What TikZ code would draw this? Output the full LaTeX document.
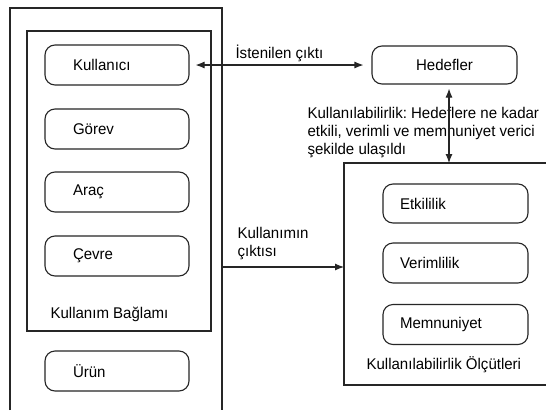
\documentclass[tikz,border=0pt]{standalone}
\usepackage{fontspec}
\setmainfont{Liberation Sans}[FakeStretch=0.97]
\usetikzlibrary{arrows.meta, positioning}

\tikzset{
	kutu/.style={draw, rounded corners=10pt, minimum height=40pt, align=left},
	solkutu/.style={kutu, text width=88pt, inner xsep=28pt},
	sagkutu/.style={kutu, text width=111pt, inner xsep=17pt},
	etiket/.style={inner sep=0pt, align=left},
	ciftok/.style={{Latex[length=9pt,width=7pt]}-{Latex[length=9pt,width=7pt]}},
	ok/.style={-{Latex[length=9pt,width=7pt]}}
}

\begin{document}
\frenchspacing
\begin{tikzpicture}[x=1pt,y=-1pt,on grid,line width=1.1pt,draw=black!85,
	font=\fontsize{15.5}{18}\selectfont]
		
		\useasboundingbox[fill=white] (0,0) rectangle (546,410);
		
		% kullanim baglami
		\draw (10,410) -- (10,8) -- (222,8) -- (222,410);
		\draw (27,31) rectangle (211,331);
		
		\node (kullanici) 
			[solkutu] at (117,65) {Kullanıcı};
			\node (gorev) 
				[solkutu, below=64pt of kullanici] {Görev};
			\node (arac) 
				[solkutu, below=63pt of gorev] {Araç};
			\node (cevre) 
				[solkutu, below=64pt of arac] {Çevre};
			\node (baglam) 
				[etiket, anchor=base west] at (50,318) {Kullanım Bağlamı};
			\node (urun) 
				[solkutu, below=115pt of cevre] {Ürün};
				
		% hedefler
		\node (hedefler) 
			[kutu, minimum width=145pt, minimum height=38pt] at (444.5,65) {Hedefler};
			
		% olcutler
		\draw (546,163) -- (344,163) -- (344,385) -- (546,385);
		\coordinate (olcutust) at (449,163);
		\coordinate (olcutsol) at (344,267);
		\coordinate (cikis) at (222,267);
		
		\node (etkililik) 
			[sagkutu, minimum height=39pt] at (455.5,203.5) {Etkililik};
			\node (verimlilik) 
				[sagkutu, below=59.5pt of etkililik] {Verimlilik};
			\node (memnuniyet) 
				[sagkutu, below=61.5pt of verimlilik] {Memnuniyet};
			\node (olcutler) 
				[etiket, anchor=base west] at (366,369) {Kullanılabilirlik Ölçütleri};
		
		% etiketler
		\node (istenilen) 
			[etiket, anchor=base west] at (235,58) {İstenilen çıktı};
		\node (kullanilabilirlik) 
			[etiket, anchor=north west] at (307,107) 
			{Kullanılabilirlik: Hedeflere ne kadar\\etkili, verimli ve memnuniyet verici\\şekilde ulaşıldı};
		\node (kullanimin) 
			[etiket, anchor=north west] at (237,227) {Kullanımın\\çıktısı};
		
		\draw [ciftok, shorten <=6pt, shorten >=8pt]
			(kullanici.east) -- (kullanici.east -| hedefler.west);
		\draw [ciftok, shorten <=4pt]
			(hedefler.south -| olcutust) -- (olcutust);
		\draw [ok] (cikis) -- (olcutsol);
	\end{tikzpicture}
\end{document}
